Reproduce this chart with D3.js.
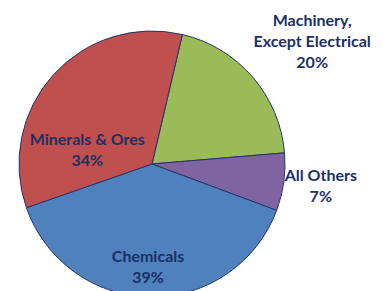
<!DOCTYPE html>
<html>
<head>
<meta charset="utf-8">
<script src="https://cdn.jsdelivr.net/npm/d3@7"></script>
<style>
  html, body { margin: 0; padding: 0; background: #fff; }
  svg { display: block; }
  .lbl { font-family: Lato, "Liberation Sans", sans-serif; font-weight: bold; fill: #1c2f66; }
</style>
</head>
<body>
<div id="chart"></div>
<script>
// slice data, clockwise from the green wedge
var categories = ["Machinery,\nExcept Electrical", "All Others", "Chemicals", "Minerals & Ores"];
var shares = [20, 7, 39, 34];
var colors = ["#9bbb59", "#8064a2", "#4f81bd", "#c0504d"];

var width = 383, height = 291;
var cx = 152, cy = 164, radius = 133;

// label anchors as [angle in degrees clockwise from 12 o'clock, distance / radius]
var labelSpots = [[52.4, 1.52], [97.4, 1.28], [182.2, 0.775], [283, 0.50]];

var svg = d3.select("#chart").append("svg")
    .attr("width", width)
    .attr("height", height);

var g = svg.append("g").attr("transform", "translate(" + cx + "," + cy + ")");

var start = 13.2 * Math.PI / 180;
var pie = d3.pie().sort(null).value(function(d) { return d; })
    .startAngle(start).endAngle(start + 2 * Math.PI);
var arc = d3.arc().innerRadius(0).outerRadius(radius);

g.selectAll("path.slice")
  .data(pie(shares))
  .enter().append("path")
    .attr("class", "slice")
    .attr("d", arc)
    .attr("fill", function(d, i) { return colors[i]; })
    .attr("stroke", "#25336b")
    .attr("stroke-width", 1);

var lineH = 21;
categories.forEach(function(name, i) {
  var a = labelSpots[i][0] * Math.PI / 180;
  var r = labelSpots[i][1] * radius;
  var x = Math.sin(a) * r, y = -Math.cos(a) * r;
  var lines = name.split("\n").concat([shares[i] + "%"]);
  var t = g.append("text")
    .attr("class", "lbl")
    .attr("text-anchor", "middle")
    .attr("font-size", 16)
    .attr("x", x)
    .attr("y", y - (lines.length - 1) * lineH / 2 + 6);
  lines.forEach(function(ln, j) {
    t.append("tspan")
      .attr("x", x)
      .attr("dy", j === 0 ? 0 : lineH)
      .text(ln);
  });
});
</script>
</body>
</html>
